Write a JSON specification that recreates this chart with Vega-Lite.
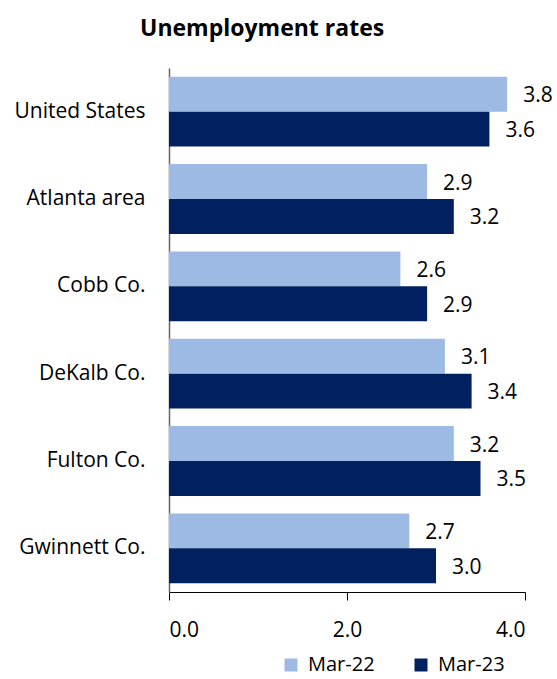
{
  "$schema": "https://vega.github.io/schema/vega-lite/v6.json",
  "autosize": {"type": "none"},
  "width": 356,
  "height": 524,
  "padding": {"left": 169, "top": 68, "right": 32, "bottom": 87},
  "background": "white",
  "title": {
    "text": "Unemployment rates",
    "anchor": "start",
    "frame": "group",
    "dx": -29,
    "offset": 27,
    "font": "Open Sans",
    "fontSize": 23,
    "fontWeight": "bold",
    "color": "#000000"
  },
  "config": {
    "view": {"stroke": null},
    "font": "Open Sans"
  },
  "data": {
    "values": [
      {"area": "United States", "period": "Mar-22", "rate": 3.8},
      {"area": "United States", "period": "Mar-23", "rate": 3.6},
      {"area": "Atlanta area", "period": "Mar-22", "rate": 2.9},
      {"area": "Atlanta area", "period": "Mar-23", "rate": 3.2},
      {"area": "Cobb Co.", "period": "Mar-22", "rate": 2.6},
      {"area": "Cobb Co.", "period": "Mar-23", "rate": 2.9},
      {"area": "DeKalb Co.", "period": "Mar-22", "rate": 3.1},
      {"area": "DeKalb Co.", "period": "Mar-23", "rate": 3.4},
      {"area": "Fulton Co.", "period": "Mar-22", "rate": 3.2},
      {"area": "Fulton Co.", "period": "Mar-23", "rate": 3.5},
      {"area": "Gwinnett Co.", "period": "Mar-22", "rate": 2.7},
      {"area": "Gwinnett Co.", "period": "Mar-23", "rate": 3.0}
    ]
  },
  "encoding": {
    "y": {
      "field": "area",
      "type": "nominal",
      "sort": null,
      "scale": {"paddingInner": 0.2, "paddingOuter": 0.1},
      "axis": {
        "title": null,
        "ticks": false,
        "domainColor": "#666666",
        "domainWidth": 1.5,
        "labelFont": "Open Sans",
        "labelFontSize": 21,
        "labelColor": "#000000",
        "labelPadding": 24,
        "grid": false
      }
    },
    "yOffset": {"field": "period", "type": "nominal", "sort": ["Mar-22", "Mar-23"]},
    "x": {
      "field": "rate",
      "type": "quantitative",
      "scale": {"domain": [0, 4], "nice": false},
      "axis": {
        "title": null,
        "values": [0, 2, 4],
        "format": ".1f",
        "grid": false,
        "domainColor": "#000000",
        "tickColor": "#000000",
        "tickSize": 8,
        "labelFont": "Open Sans",
        "labelFontSize": 21,
        "labelColor": "#000000",
        "labelPadding": 19
      }
    }
  },
  "layer": [
    {
      "mark": {"type": "bar"},
      "encoding": {
        "color": {
          "field": "period",
          "type": "nominal",
          "scale": {"domain": ["Mar-22", "Mar-23"], "range": ["#9DBAE4", "#002060"]},
          "legend": {
            "title": null,
            "orient": "none",
            "direction": "horizontal",
            "legendX": 112,
            "legendY": 587,
            "symbolType": "square",
            "symbolSize": 169,
            "symbolStrokeWidth": 0,
            "labelFont": "Open Sans",
            "labelFontSize": 20,
            "labelColor": "#000000",
            "columnPadding": 36,
            "labelOffset": 7
          }
        }
      }
    },
    {
      "mark": {"type": "text", "align": "left", "baseline": "middle", "dx": 16, "dy": 2, "fontSize": 21, "font": "Open Sans", "color": "#000000"},
      "encoding": {
        "text": {"field": "rate", "type": "quantitative", "format": ".1f"}
      }
    }
  ]
}
